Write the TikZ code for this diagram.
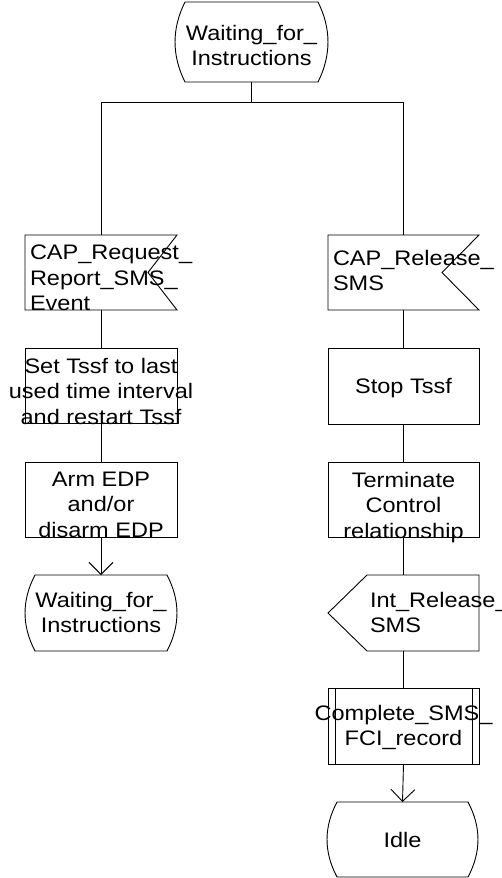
\documentclass[tikz,border=0pt]{standalone}
\usepackage{fontspec}
\setmainfont{Liberation Sans}[FakeStretch=1.12]
\usetikzlibrary{calc,arrows.meta}
\tikzset{
  frame/.style 2 args={minimum width=#1pt, minimum height=#2pt, inner sep=0pt, outer sep=0pt, draw=none},
  txt/.style={inner sep=0pt, outer sep=0pt, align=center, font=\fontsize{21}{25.5}\selectfont},
  ltxt/.style={txt, align=left, anchor=north west},
  ctxt/.style={txt, anchor=north},
  flow/.style={draw, line width=0.9pt},
  arr/.style={flow, -{Straight Barb[length=12pt,width=24pt,line width=0.9pt]}}
}
\newcommand\sdlstate[1]{%
  \draw[flow] ([xshift=10pt]#1.north west) -- ([xshift=-10pt]#1.north east)
   .. controls ($(#1.north east)!0.3333!(#1.south east)+(3.3pt,0)$) and ($(#1.north east)!0.6667!(#1.south east)+(3.3pt,0)$) .. ([xshift=-10pt]#1.south east)
   -- ([xshift=10pt]#1.south west)
   .. controls ($(#1.north west)!0.6667!(#1.south west)+(-3.3pt,0)$) and ($(#1.north west)!0.3333!(#1.south west)+(-3.3pt,0)$) .. ([xshift=10pt]#1.north west) -- cycle;}
\newcommand\sdlinput[2]{%
  \draw[flow] (#1.north west) -- (#1.north east) -- ([xshift=-#2pt]#1.east) -- (#1.south east) -- (#1.south west) -- cycle;}
\newcommand\sdloutput[2]{%
  \draw[flow] ([xshift=#2pt]#1.north west) -- (#1.north east) -- (#1.south east) -- ([xshift=#2pt]#1.south west) -- (#1.west) -- cycle;}
\newcommand\sdltask[1]{%
  \draw[flow] (#1.north west) rectangle (#1.south east);}
\newcommand\sdlproc[1]{%
  \draw[flow] (#1.north west) rectangle (#1.south east);
  \draw[flow] ([xshift=7pt]#1.north west) -- ([xshift=7pt]#1.south west);
  \draw[flow] ([xshift=-7pt]#1.north east) -- ([xshift=-7pt]#1.south east);}
\begin{document}
\begin{tikzpicture}[x=1pt,y=-1pt]
\useasboundingbox (0,0) rectangle (502,878);
% shapes
\node[frame={153}{80}] (top) at (251.5,42) {};
\node[frame={152}{75}] (li) at (101,272.5) {};
\node[frame={152}{75}] (lt1) at (101,385.5) {};
\node[frame={152}{75}] (lt2) at (101,499.5) {};
\node[frame={152}{76}] (ls) at (101,613) {};
\node[frame={151}{75}] (ri) at (403.5,272.5) {};
\node[frame={151}{76}] (rt1) at (403.5,386) {};
\node[frame={151}{75}] (rt2) at (403.5,499.5) {};
\node[frame={151}{76}] (ro) at (403.5,613) {};
\node[frame={151}{76}] (rp) at (403.5,726) {};
\node[frame={151}{75}] (idle) at (402.5,839.5) {};
\coordinate (jm) at (251.5,102);
\coordinate (jl) at (101,102);
\coordinate (jr) at (403.5,102);

\sdlstate{top}
\sdlinput{li}{29}
\sdltask{lt1}
\sdltask{lt2}
\sdlstate{ls}
\sdlinput{ri}{37}
\sdltask{rt1}
\sdltask{rt2}
\sdloutput{ro}{39}
\sdlproc{rp}
\sdlstate{idle}

% texts
\node[ctxt] (toptxt) at (251.5,25) {Waiting\_for\_\\Instructions};
\node[ltxt] (litxt) at (30,245) {CAP\_Request\_\\Report\_SMS\_\\Event};
\node[ctxt] (lt1txt) at (101,358) {Set Tssf to last\\used time interval\\and restart Tssf};
\node[ctxt] (lt2txt) at (101,472) {Arm EDP\\and/or\\disarm EDP};
\node[ctxt] (lstxt) at (101,592) {Waiting\_for\_\\Instructions};
\node[ltxt] (ritxt) at (333,250) {CAP\_Release\_\\SMS};
\node[ctxt] (rt1txt) at (403.5,378) {Stop Tssf};
\node[ctxt] (rt2txt) at (403.5,472) {Terminate\\Control\\relationship};
\node[ltxt] (rotxt) at (370,592) {Int\_Release\_\\SMS};
\node[ctxt] (rptxt) at (403.5,705) {Complete\_SMS\_\\FCI\_record};
\node[ctxt] (idletxt) at (402.5,832) {Idle};

% connectors
\draw[flow] (top.south) -- (jm);
\draw[flow] (jl) -- (jr);
\draw[flow] (jl) -- (li.north);
\draw[flow] (li.south) -- (lt1.north);
\draw[flow] (lt1.south) -- (lt2.north);
\draw[arr] (lt2.south) -- (ls.north);
\draw[flow] (jr) -- (ri.north);
\draw[flow] (ri.south) -- (rt1.north);
\draw[flow] (rt1.south) -- (rt2.north);
\draw[flow] (rt2.south) -- (ro.north);
\draw[flow] (ro.south) -- (rp.north);
\draw[arr] (rp.south) -- (idle.north);
\end{tikzpicture}
\end{document}
